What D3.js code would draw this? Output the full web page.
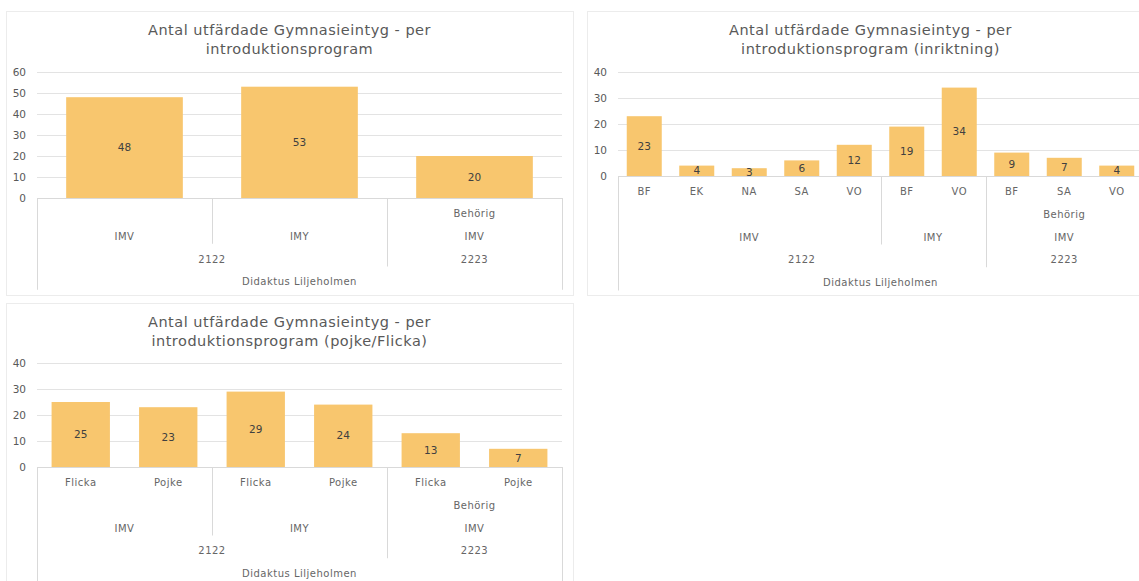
<!DOCTYPE html>
<html>
<head>
<meta charset="utf-8">
<script src="https://cdn.jsdelivr.net/npm/d3@7"></script>
<style>
  body { margin: 0; background: #fff; }
  svg { display: block; font-family: "DejaVu Sans", sans-serif; }
</style>
</head>
<body>
<div id="charts"></div>
<script>
// --- Data ---
// Chart 1: per introduktionsprogram
const c1School = ["Didaktus Liljeholmen", "Didaktus Liljeholmen", "Didaktus Liljeholmen"];
const c1Year = ["2122", "2122", "2223"];
const c1Program = ["IMV", "IMY", "IMV"];
const c1Status = ["", "", "Behörig"];
const c1Values = [48, 53, 20];
const c1Ticks = [0, 10, 20, 30, 40, 50, 60];

// Chart 2: per inriktning
const c2School = Array(10).fill("Didaktus Liljeholmen");
const c2Year = ["2122", "2122", "2122", "2122", "2122", "2122", "2122", "2223", "2223", "2223"];
const c2Program = ["IMV", "IMV", "IMV", "IMV", "IMV", "IMY", "IMY", "IMV", "IMV", "IMV"];
const c2Status = ["", "", "", "", "", "", "", "Behörig", "Behörig", "Behörig"];
const c2Inriktning = ["BF", "EK", "NA", "SA", "VO", "BF", "VO", "BF", "SA", "VO"];
const c2Values = [23, 4, 3, 6, 12, 19, 34, 9, 7, 4];
const c2Ticks = [0, 10, 20, 30, 40];

// Chart 3: pojke/flicka
const c3School = Array(6).fill("Didaktus Liljeholmen");
const c3Year = ["2122", "2122", "2122", "2122", "2223", "2223"];
const c3Program = ["IMV", "IMV", "IMY", "IMY", "IMV", "IMV"];
const c3Status = ["", "", "", "", "Behörig", "Behörig"];
const c3Gender = ["Flicka", "Pojke", "Flicka", "Pojke", "Flicka", "Pojke"];
const c3Values = [25, 23, 29, 24, 13, 7];
const c3Ticks = [0, 10, 20, 30, 40];

// --- Style constants ---
const BAR_COLOR = "#f8c66e";
const LINE_COLOR = "#d9d9d9";
const GRID_COLOR = "#e3e3e3";
const TEXT_COLOR = "#595959";
const CAT_COLOR = "#666666";
const LABEL_COLOR = "#404040";
const PANEL_W = 567;

const svg = d3.select("#charts").append("svg")
    .attr("width", 1139)
    .attr("height", 581);

/**
 * Draws one Excel-like column chart with a multi-level category axis.
 * levels: outermost first, innermost last.
 */
function drawChart(cfg) {
    const g = svg.append("g").attr("transform", `translate(${cfg.x},${cfg.y})`);

    // panel
    g.append("rect")
        .attr("x", 0.5).attr("y", 0.5)
        .attr("width", PANEL_W).attr("height", cfg.panelH)
        .attr("fill", "#fff")
        .attr("stroke", "#ececec");

    // title
    const title = g.append("text")
        .attr("text-anchor", "middle")
        .attr("fill", TEXT_COLOR)
        .attr("font-size", 14.5)
        .attr("letter-spacing", 0.5);
    cfg.title.forEach((line, i) => {
        title.append("tspan")
            .attr("x", PANEL_W / 2)
            .attr("y", 19 + i * 19)
            .attr("dy", "0.35em")
            .text(line);
    });

    const left = 31, right = 556;
    const n = cfg.values.length;
    const x = d3.scaleBand()
        .domain(d3.range(n))
        .range([left, right])
        .paddingInner(1 / 3)
        .paddingOuter(1 / 6);
    const y = d3.scaleLinear()
        .domain([0, d3.max(cfg.ticks)])
        .range([cfg.plotBottom, cfg.plotTop]);

    // gridlines
    g.append("g").selectAll("line")
        .data(cfg.ticks.filter(t => t > 0))
        .join("line")
        .attr("x1", left).attr("x2", right)
        .attr("y1", d => y(d) + 0.5).attr("y2", d => y(d) + 0.5)
        .attr("stroke", GRID_COLOR);

    // y axis labels
    const yAxis = g.append("g")
        .attr("transform", `translate(${left},0)`)
        .call(d3.axisLeft(y).tickValues(cfg.ticks).tickSize(0).tickPadding(11));
    yAxis.select(".domain").remove();
    yAxis.selectAll("text")
        .attr("fill", TEXT_COLOR)
        .attr("font-size", 10.5)
        .attr("font-family", "DejaVu Sans, sans-serif");

    // bars
    g.append("g").selectAll("rect")
        .data(cfg.values)
        .join("rect")
        .attr("x", (d, i) => x(i))
        .attr("width", x.bandwidth())
        .attr("y", d => y(d))
        .attr("height", d => y(0) - y(d))
        .attr("fill", BAR_COLOR);

    // data labels (centered)
    g.append("g").selectAll("text")
        .data(cfg.values)
        .join("text")
        .attr("x", (d, i) => x(i) + x.bandwidth() / 2)
        .attr("y", d => (y(d) + y(0)) / 2)
        .attr("dy", "0.35em")
        .attr("text-anchor", "middle")
        .attr("fill", LABEL_COLOR)
        .attr("font-size", 10.5)
        .text(d => d);

    // axis line
    g.append("line")
        .attr("x1", left).attr("x2", right)
        .attr("y1", y(0) + 0.5).attr("y2", y(0) + 0.5)
        .attr("stroke", LINE_COLOR);

    // multi-level category axis
    const levels = cfg.levels;
    const nL = levels.length;
    const rowY = r => y(0) + 15.5 + 22.75 * r;
    const step = x.step();
    const edge = i => left + i * step; // boundary before category i

    // group labels per level
    levels.forEach((lev, k) => {
        const groups = [];
        for (let i = 0; i < n; i++) {
            const same = i > 0 && levels.slice(0, k + 1).every(l => l[i] === l[i - 1]);
            if (same) groups[groups.length - 1].end = i;
            else groups.push({ start: i, end: i, label: lev[i] });
        }
        g.append("g").selectAll("text")
            .data(groups.filter(d => d.label))
            .join("text")
            .attr("x", d => (edge(d.start) + edge(d.end + 1)) / 2)
            .attr("y", rowY(nL - 1 - k))
            .attr("dy", "0.35em")
            .attr("text-anchor", "middle")
            .attr("fill", CAT_COLOR)
            .attr("font-size", 10)
            .attr("letter-spacing", 0.5)
            .text(d => d.label);
    });

    // separators between groups
    const seps = [];
    for (let i = 1; i < n; i++) {
        const k = levels.findIndex(l => l[i] !== l[i - 1]);
        if (k >= 0 && k < nL - 1) seps.push({ xPos: edge(i), end: rowY(nL - 1 - k) + 7.5 });
    }
    seps.push({ xPos: left, end: rowY(nL - 1) + 8 });
    seps.push({ xPos: right, end: rowY(nL - 1) + 8 });
    g.append("g").selectAll("line")
        .data(seps)
        .join("line")
        .attr("x1", d => Math.round(d.xPos) + 0.5).attr("x2", d => Math.round(d.xPos) + 0.5)
        .attr("y1", y(0)).attr("y2", d => d.end)
        .attr("stroke", LINE_COLOR);
}

drawChart({
    x: 6, y: 11, panelH: 284,
    title: ["Antal utfärdade Gymnasieintyg - per", "introduktionsprogram"],
    levels: [c1School, c1Year, c1Program, c1Status],
    values: c1Values, ticks: c1Ticks,
    plotTop: 61, plotBottom: 187
});

drawChart({
    x: 587, y: 11, panelH: 284,
    title: ["Antal utfärdade Gymnasieintyg - per", "introduktionsprogram (inriktning)"],
    levels: [c2School, c2Year, c2Program, c2Status, c2Inriktning],
    values: c2Values, ticks: c2Ticks,
    plotTop: 61, plotBottom: 165
});

drawChart({
    x: 6, y: 303, panelH: 300,
    title: ["Antal utfärdade Gymnasieintyg - per", "introduktionsprogram (pojke/Flicka)"],
    levels: [c3School, c3Year, c3Program, c3Status, c3Gender],
    values: c3Values, ticks: c3Ticks,
    plotTop: 60, plotBottom: 164
});
</script>
</body>
</html>
